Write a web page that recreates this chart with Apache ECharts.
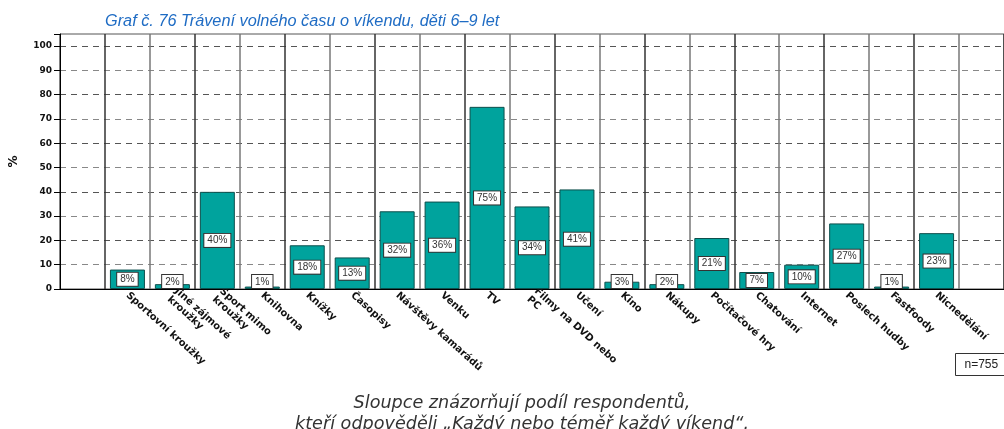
<!DOCTYPE html>
<html>
<head>
<meta charset="utf-8">
<script src="https://cdn.jsdelivr.net/npm/echarts@6/dist/echarts.min.js"></script>
<style>
  html, body { margin: 0; padding: 0; background: #fff; }
  #chart { width: 1004px; height: 429px; }
</style>
</head>
<body>
<div id="chart"></div>
<script>
// categories (empty slot at each end, as in the source graph)
var categories = ['', 'Sportovní kroužky', 'Jiné zájmové\nkroužky', 'Sport mimo\nkroužky', 'Knihovna', 'Knížky',
	'Časopisy', 'Návštěvy kamarádů', 'Venku', 'TV', 'Filmy na DVD nebo\nPC', 'Učení', 'Kino', 'Nákupy',
	'Počítačové hry', 'Chatování', 'Internet', 'Poslech hudby', 'Fastfoody', 'Nicnedělání', ''];
var values = [null, 8, 2, 40, 1, 18, 13, 32, 36, 75, 34, 41, 3, 2, 21, 7, 10, 27, 1, 23, null];
var yTicks = [0, 10, 20, 30, 40, 50, 60, 70, 80, 90, 100];

var titleText = 'Graf č. 76 Trávení volného času o víkendu, děti 6–9 let';
var noteLines = ['Sloupce znázorňují podíl respondentů,', 'kteří odpověděli „Každý nebo téměř každý víkend“.'];

var barData = [];
for (var i = 0; i < values.length; i++) {
	var v = values[i];
	if (v === null) { barData.push(null); continue; }
	// small bars: keep the label box sitting on the axis
	if (v < 7) {
		barData.push({ value: v, label: { position: 'insideBottom', distance: 1 } });
	} else {
		barData.push(v);
	}
}

var noteGraphics = [];
for (var j = 0; j < noteLines.length; j++) {
	noteGraphics.push({
		type: 'text',
		x: 522, y: 394 + j * 21,
		style: {
			text: noteLines[j],
			font: 'italic 17.6px "DejaVu Sans"',
			fill: '#333', align: 'center', verticalAlign: 'top'
		}
	});
}

var dom = document.getElementById('chart');
var myChart = echarts.init(dom);
var option = {
	animation: false,
	title: {
		text: titleText,
		left: 100,
		top: 8,
		textStyle: { fontFamily: 'Liberation Sans', fontStyle: 'italic', fontWeight: 'normal', fontSize: 16.3, color: '#1f6cc4' }
	},
	grid: {
		left: 57, top: 34, bottom: 140, right: -7,
		show: true, borderColor: '#555', borderWidth: 1, backgroundColor: 'transparent'
	},
	xAxis: {
		type: 'category',
		data: categories,
		axisLine: { lineStyle: { color: '#000', width: 1 } },
		axisTick: { alignWithLabel: true, length: 5, lineStyle: { color: '#000' },
			interval: function (idx, val) { return val !== ''; } },
		splitLine: { show: true, lineStyle: { color: ['#777', '#333'], width: 1.5 } },
		axisLabel: {
			interval: 0, rotate: -42, margin: 5,
			fontFamily: 'DejaVu Sans', fontWeight: 'bold', fontSize: 10, color: '#111', lineHeight: 11
		}
	},
	yAxis: {
		type: 'value',
		min: 0, max: 105, interval: 10,
		name: '%',
		nameLocation: 'middle',
		nameGap: 40,
		nameRotate: 90,
		nameTextStyle: { fontFamily: 'DejaVu Sans', fontWeight: 'bold', fontSize: 12, color: '#111' },
		axisLine: { show: true, lineStyle: { color: '#000' } },
		axisTick: { show: true, length: 6, lineStyle: { color: '#000' } },
		axisLabel: {
			margin: 8, fontFamily: 'DejaVu Sans', fontWeight: 'bold', fontSize: 9, color: '#111',
			formatter: function (v) { return yTicks.indexOf(v) >= 0 ? String(v) : ''; }
		},
		splitLine: { show: true, showMaxLine: false, lineStyle: { type: [6, 5], color: ['#555', '#888'], width: 1.2 } }
	},
	series: [{
		type: 'bar',
		data: barData,
		barWidth: 35,
		itemStyle: { color: '#00a39d', borderColor: '#0d4f4c', borderWidth: 1 },
		label: {
			show: true,
			position: 'inside',
			formatter: '{c}%',
			fontFamily: 'Liberation Sans', fontSize: 10, color: '#333',
			backgroundColor: '#fff', borderColor: '#333', borderWidth: 1,
			padding: [2, 3, 1, 3]
		}
	}],
	graphic: noteGraphics.concat([{
		type: 'group',
		left: 955, top: 353,
		children: [{
			type: 'rect',
			shape: { x: 0, y: 0, width: 60, height: 22 },
			style: { fill: '#fff', stroke: '#333', lineWidth: 1 }
		}, {
			type: 'text',
			x: 9, y: 5,
			style: { text: 'n=755', font: '12px "Liberation Sans"', fill: '#222' }
		}]
	}])
};
if (option && typeof option === "object") {
	myChart.setOption(option, true);
}
</script>
</body>
</html>
